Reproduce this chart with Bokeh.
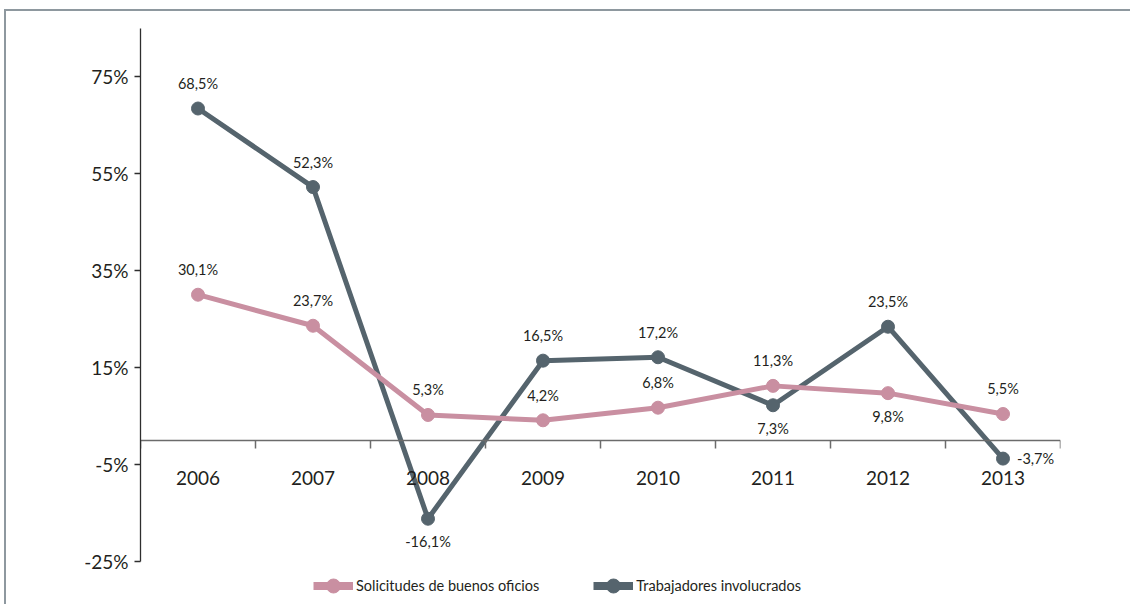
from bokeh.plotting import figure
from bokeh.models import Range1d, LinearAxis, FixedTicker, Legend, LegendItem, ColumnDataSource
from bokeh.core.properties import value
from bokeh.embed import file_html
from bokeh.resources import INLINE

# ---- data ----
years = ["2006", "2007", "2008", "2009", "2010", "2011", "2012", "2013"]
solicitudes = [30.1, 23.7, 5.3, 4.2, 6.8, 11.3, 9.8, 5.5]
trabajadores = [68.5, 52.3, -16.1, 16.5, 17.2, 7.3, 23.5, -3.7]
series_names = ["Solicitudes de buenos oficios", "Trabajadores involucrados"]
y_ticks = [-25, -5, 15, 35, 55, 75]
y_tick_labels = ["-25%", "-5%", "15%", "35%", "55%", "75%"]

# ---- label placement (style) ----
sol_place = ["above", "above", "above", "above", "above", "above", "below", "above"]
trab_place = ["above", "above", "below", "above", "above", "below", "above", "right"]

FONT = "Lato"
TXT = "#231f20"
PINK = "#c98fa1"
DARK = "#55646d"

n = len(years)
xs = [i + 0.5 for i in range(n)]
bounds = [float(i) for i in range(n + 1)]

Y_AXIS_MIN, Y_AXIS_MAX = -25, 85

p = figure(width=1126, height=595,
           x_range=Range1d(0, n), y_range=Range1d(-34.2, Y_AXIS_MAX),
           x_axis_type=None, y_axis_type=None,
           output_backend="svg", toolbar_location=None,
           min_border_left=134, min_border_right=72,
           min_border_top=17, min_border_bottom=0)
p.outline_line_color = None
p.background_fill_color = "white"
p.border_fill_color = "white"
p.styles = {"margin-left": "4px", "margin-top": "9px",
            "border-left": "2px solid #8e989f", "border-top": "2px solid #8e989f"}

# y axis
yaxis = LinearAxis(ticker=FixedTicker(ticks=y_ticks, minor_ticks=[]),
                   bounds=(Y_AXIS_MIN, Y_AXIS_MAX),
                   major_label_overrides={t: l for t, l in zip(y_ticks, y_tick_labels)},
                   major_tick_out=6, major_tick_in=0,
                   minor_tick_out=0, minor_tick_in=0,
                   axis_line_color="#2e2e2e", axis_line_width=1.3,
                   major_tick_line_color="#2e2e2e", major_tick_line_width=1.3,
                   major_label_standoff=6,
                   major_label_text_font=FONT, major_label_text_font_size="19px",
                   major_label_text_color=TXT)
p.add_layout(yaxis, "left")

# x axis at zero
xaxis = LinearAxis(ticker=FixedTicker(ticks=xs, minor_ticks=bounds),
                   fixed_location=0,
                   major_label_overrides={x: y for x, y in zip(xs, years)},
                   major_tick_out=0, major_tick_in=0,
                   minor_tick_out=8, minor_tick_in=0,
                   axis_line_color="#6b6b6b", axis_line_width=1.5,
                   minor_tick_line_color="#6b6b6b", minor_tick_line_width=1.5,
                   major_label_standoff=22,
                   major_label_text_font=FONT, major_label_text_font_size="19px",
                   major_label_text_color=TXT)
p.add_layout(xaxis, "below")


def fmt(v):
    return f"{v:.1f}".replace(".", ",") + "%"


def add_lines(vals, color):
    p.line(xs, vals, line_width=5, color=color)
    return p.scatter(xs, vals, size=13, color=color)


def add_labels(vals, place):
    xo, yo, align = [], [], []
    for pl in place:
        if pl == "above":
            xo.append(0); yo.append(-25); align.append("center")
        elif pl == "below":
            xo.append(0); yo.append(23); align.append("center")
        else:
            xo.append(14); yo.append(0); align.append("left")
    src = ColumnDataSource(dict(x=xs, y=vals, t=[fmt(v) for v in vals],
                                xo=xo, yo=yo, al=align))
    p.text(x="x", y="y", text="t", x_offset="xo", y_offset="yo", text_align="al",
           source=src, text_baseline="middle", text_font=value(FONT),
           text_font_size="14.5px", text_color=TXT)


dots_t = add_lines(trabajadores, DARK)
dots_s = add_lines(solicitudes, PINK)
add_labels(solicitudes, sol_place)
add_labels(trabajadores, trab_place)

# legend swatches: thicker line (legend-only, NaN data) + the series' dot
items = []
nan = float("nan")
for name, color, dots in zip(series_names, [PINK, DARK], [dots_s, dots_t]):
    r1 = p.line([xs[0], xs[1]], [nan, nan], line_width=8, color=color)
    items.append(LegendItem(label=name, renderers=[r1, dots], index=0))

legend = Legend(items=items, orientation="horizontal", location=(173, 3),
                glyph_width=40, glyph_height=35, label_standoff=3, spacing=54,
                padding=0, margin=0, border_line_alpha=0, background_fill_alpha=0,
                label_text_font=FONT, label_text_font_size="14.5px",
                label_text_color=TXT)
p.add_layout(legend)

open("out.html", "w").write(file_html(p, INLINE))
